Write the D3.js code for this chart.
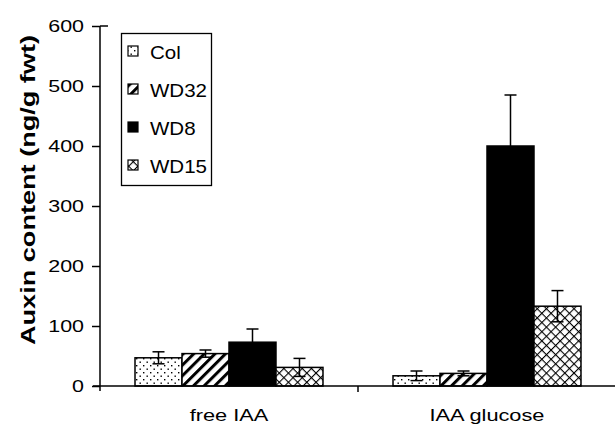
<!DOCTYPE html>
<html>
<head>
<meta charset="utf-8">
<script src="https://cdn.jsdelivr.net/npm/d3@7"></script>
<style>
  body { margin: 0; background: #fff; }
  svg { display: block; }
  text { font-family: "Liberation Sans", Arial, sans-serif; fill: #000; }
</style>
</head>
<body>
<svg id="chart" width="615" height="425"></svg>
<script>
// Auxin content per line, for free IAA and IAA glucose
const categories = ["free IAA", "IAA glucose"];
const lines = ["Col", "WD32", "WD8", "WD15"];
const colMean = [47, 17];
const wd32Mean = [54, 21];
const wd8Mean = [73, 400];
const wd15Mean = [31, 133];
const colErr = [10, 8];
const wd32Err = [6, 4];
const wd8Err = [22, 85];
const wd15Err = [15, 26];
const yTicks = [0, 100, 200, 300, 400, 500, 600];
const yLabel = "Auxin content (ng/g fwt)";

const means = [colMean, wd32Mean, wd8Mean, wd15Mean];
const errs = [colErr, wd32Err, wd8Err, wd15Err];
const fills = ["url(#dots)", "url(#stripes)", "#000", "url(#cross)"];

const svg = d3.select("#chart");
const plotLeft = 100, plotRight = 616, plotTop = 26, plotBottom = 386;

// widen glyphs horizontally by factor k
function stretch(sel, k) {
  sel.each(function () {
    const w = this.getComputedTextLength();
    d3.select(this).attr("textLength", w * k).attr("lengthAdjust", "spacingAndGlyphs");
  });
}

// fill patterns
const defs = svg.append("defs");
const dots = defs.append("pattern").attr("id", "dots").attr("patternUnits", "userSpaceOnUse")
  .attr("width", 7).attr("height", 7);
dots.append("rect").attr("width", 7).attr("height", 7).attr("fill", "#fff");
dots.append("rect").attr("x", 1).attr("y", 1).attr("width", 1.4).attr("height", 1.4).attr("fill", "#000");
dots.append("rect").attr("x", 4.5).attr("y", 4.5).attr("width", 1.4).attr("height", 1.4).attr("fill", "#000");

const stripes = defs.append("pattern").attr("id", "stripes").attr("patternUnits", "userSpaceOnUse")
  .attr("width", 7.5).attr("height", 7.5).attr("patternTransform", "rotate(45)");
stripes.append("rect").attr("width", 7.5).attr("height", 7.5).attr("fill", "#fff");
stripes.append("rect").attr("x", 0).attr("width", 3).attr("height", 7.5).attr("fill", "#000");

const cross = defs.append("pattern").attr("id", "cross").attr("patternUnits", "userSpaceOnUse")
  .attr("width", 6.5).attr("height", 6.5).attr("patternTransform", "rotate(45)");
cross.append("rect").attr("width", 6.5).attr("height", 6.5).attr("fill", "#fff");
cross.append("rect").attr("x", 0).attr("width", 1.1).attr("height", 6.5).attr("fill", "#000");
cross.append("rect").attr("y", 0).attr("width", 6.5).attr("height", 1.1).attr("fill", "#000");

// scales
const x0 = d3.scaleBand().domain(categories).range([plotLeft, plotRight]).padding(0);
const x1 = d3.scaleBand().domain(lines).range([0, x0.bandwidth()]).paddingInner(0).paddingOuter(0.745);
const y = d3.scaleLinear().domain([0, 600]).range([plotBottom, plotTop]);

// bars
const groups = svg.append("g").selectAll("g").data(categories).join("g")
  .attr("transform", d => `translate(${x0(d)},0)`);

groups.each(function (cat, ci) {
  const g = d3.select(this);
  lines.forEach((ln, si) => {
    const v = means[si][ci];
    g.append("rect")
      .attr("x", x1(ln)).attr("y", y(v))
      .attr("width", x1.bandwidth()).attr("height", y(0) - y(v))
      .attr("fill", fills[si]).attr("stroke", "#000").attr("stroke-width", 1.5);
  });
  lines.forEach((ln, si) => {
    const v = means[si][ci], e = errs[si][ci];
    const cx = x1(ln) + x1.bandwidth() / 2;
    const eb = g.append("g").attr("stroke", "#000").attr("stroke-width", 1.5);
    eb.append("line").attr("x1", cx).attr("x2", cx).attr("y1", y(v - e)).attr("y2", y(v + e));
    eb.append("line").attr("x1", cx - 6).attr("x2", cx + 6).attr("y1", y(v + e)).attr("y2", y(v + e));
    eb.append("line").attr("x1", cx - 6).attr("x2", cx + 6).attr("y1", y(v - e)).attr("y2", y(v - e));
  });
});

// y axis
const yAxis = svg.append("g").attr("transform", `translate(${plotLeft},0)`)
  .call(d3.axisLeft(y).tickValues(yTicks).tickSize(8).tickPadding(8).tickSizeOuter(0));
yAxis.select(".domain").attr("d", `M0,${plotTop}V${plotBottom + 5}`).attr("stroke-width", 1.5);
yAxis.selectAll(".tick line").attr("stroke-width", 1.5);
yAxis.selectAll(".tick text").attr("font-size", 16.5).call(stretch, 1.3);
yAxis.append("line").attr("x1", 0).attr("x2", 8).attr("y1", y(600)).attr("y2", y(600))
  .attr("stroke", "#000").attr("stroke-width", 1.5);

// x axis
const xAxis = svg.append("g").attr("transform", `translate(0,${plotBottom})`);
xAxis.append("line").attr("x1", plotLeft - 7).attr("x2", plotRight).attr("y1", 0).attr("y2", 0)
  .attr("stroke", "#000").attr("stroke-width", 1.5);
xAxis.selectAll(".sep").data(categories.slice(1)).join("line")
  .attr("x1", d => x0(d)).attr("x2", d => x0(d)).attr("y1", 0).attr("y2", 6)
  .attr("stroke", "#000").attr("stroke-width", 1.5);
xAxis.selectAll(".cat").data(categories).join("text")
  .attr("x", d => x0(d) + x0.bandwidth() / 2).attr("y", 35)
  .attr("text-anchor", "middle").attr("font-size", 17)
  .text(d => d).call(stretch, 1.28);

// y title
svg.append("text")
  .attr("transform", `translate(35,190) rotate(-90)`)
  .attr("text-anchor", "middle").attr("font-size", 19.5).attr("font-weight", "bold")
  .attr("textLength", 310).attr("lengthAdjust", "spacingAndGlyphs")
  .text(yLabel);

// legend
const legend = svg.append("g");
legend.append("rect").attr("x", 121.5).attr("y", 33.5).attr("width", 90).attr("height", 152)
  .attr("fill", "#fff").attr("stroke", "#000").attr("stroke-width", 1.3);
const rowY = d3.scalePoint().domain(lines).range([51, 165]);
lines.forEach((ln, si) => {
  legend.append("rect").attr("x", 128).attr("y", rowY(ln) - 5).attr("width", 10).attr("height", 10)
    .attr("fill", fills[si]).attr("stroke", "#000").attr("stroke-width", 1.2);
  legend.append("text").attr("x", 150).attr("y", rowY(ln) + 7.5).attr("font-size", 19)
    .text(ln).call(stretch, 1.08);
});
</script>
</body>
</html>
